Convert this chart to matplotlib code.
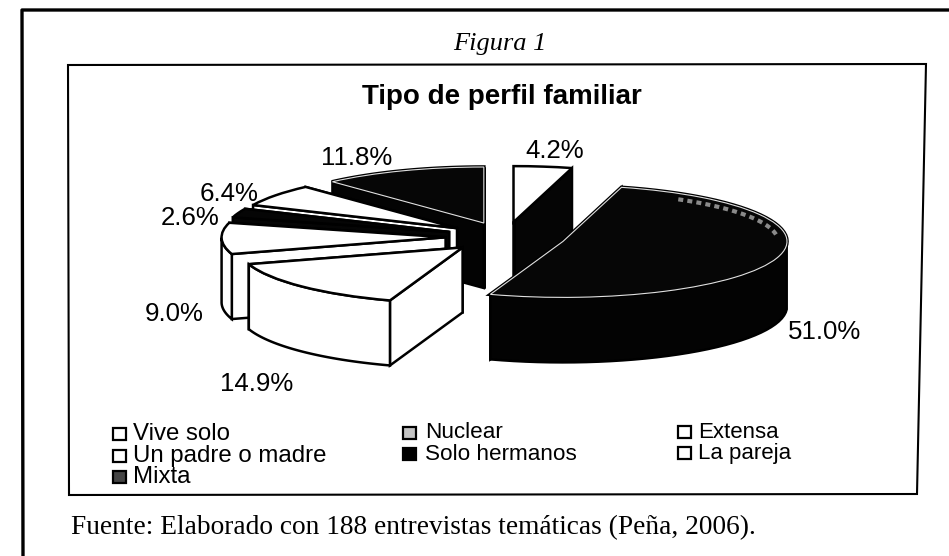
import numpy as np
import matplotlib
matplotlib.use('Agg')
import matplotlib.pyplot as plt
from matplotlib.patches import Polygon, Rectangle

labels = ['Vive solo', 'Nuclear', 'Extensa', 'Un padre o madre', 'Solo hermanos', 'La pareja', 'Mixta']
values = [4.2, 51.0, 14.9, 9.0, 2.6, 6.4, 11.8]
pct_labels = ['4.2%', '51.0%', '14.9%', '9.0%', '2.6%', '6.4%', '11.8%']

top_colors = ['white', '#060606', 'white', 'white', '#050505', 'white', '#060606']
side_colors = ['#050505', '#030303', 'white', 'white', '#050505', 'white', '#030303']
legend_colors = ['white', '#c4c4c4', 'white', 'white', 'black', 'white', '#444444']

W, H = 949, 556
fig = plt.figure(figsize=(W / 100, H / 100), dpi=100, facecolor='white')

# whole figure in pixel coords for frames and text
bg = fig.add_axes([0, 0, 1, 1])
bg.set_xlim(0, W)
bg.set_ylim(H, 0)
bg.axis('off')
bg.plot([23, 22, 949], [556, 10, 10], color='black', lw=2.4)
# the scan is a little skewed, so the inner box is not square
bg.add_patch(Polygon([(68, 65), (926, 64), (917, 494), (69, 495)], fc='none', ec='black', lw=1.5))

sans = ['Liberation Sans', 'DejaVu Sans']
serif = ['Liberation Serif', 'DejaVu Serif']
bg.text(500, 44, 'Figura 1', family=serif, style='italic', fontsize=19, ha='center', va='center')
bg.text(502, 97, 'Tipo de perfil familiar', family=sans, weight='bold', fontsize=20, ha='center', va='center')
bg.text(71, 528, 'Fuente: Elaborado con 188 entrevistas temáticas (Peña, 2006).', family=serif,
        fontsize=19.7, ha='left', va='center')

# pie axes: 1 data unit = RX px across, RY px down
CX, CY, RX, RY = 505.6, 237, 224, 56
ax = fig.add_axes([0, 0, 1, 1])
ax.patch.set_alpha(0)
wedges, _ = ax.pie(values, startangle=90, counterclock=False, explode=[0.268] * len(values),
                   radius=1, wedgeprops=dict(lw=1.8, edgecolor='black'))
ax.set_aspect('auto')
ax.set_xlim((0 - CX) / RX, (W - CX) / RX)
ax.set_ylim((CY - H) / RY, CY / RY)
ax.set_frame_on(False)

depth = 65 / RY


def arc(w, a, b, n=60):
    t = np.radians(np.linspace(a, b, n))
    return np.cos(t) * w.r + w.center[0], np.sin(t) * w.r + w.center[1], t


# back slices first, each with its own side faces
order = sorted(range(len(wedges)), key=lambda i: -wedges[i].center[1])
for rank, i in enumerate(order):
    w = wedges[i]
    z = 2 + rank
    cx, cy = w.center
    sc = side_colors[i]
    for ang in (w.theta1, w.theta2):
        x, y, _t = arc(w, ang, ang, 1)
        pts = [(cx, cy), (x[0], y[0]), (x[0], y[0] - depth), (cx, cy - depth)]
        ax.add_patch(Polygon(pts, fc=sc, ec='black', lw=1.8, zorder=z))
    # only the front part of the rim shows
    x, y, t = arc(w, w.theta1, w.theta2)
    front = np.sin(t) <= 0
    if front.sum() > 1:
        x, y = x[front], y[front]
        pts = list(zip(x, y)) + list(zip(x[::-1], y[::-1] - depth))
        ax.add_patch(Polygon(pts, fc=sc, ec='black', lw=1.8, zorder=z))
    w.set_facecolor(top_colors[i])
    w.set_zorder(z + 0.5)
    # dark tops: black outside with a thin light line, as in the scan
    if top_colors[i] != 'white' and values[i] > 5:
        x, y, t = arc(w, w.theta1, w.theta2)
        ax.add_patch(Polygon([(cx, cy)] + list(zip(x, y)), fc='black', ec='black', lw=2.6, zorder=z + 0.4))
        w.set_edgecolor('#e0e0e0')
        w.set_linewidth(0.8)

# worn grey patch along the back of the big slice
w = wedges[1]
x, y, t = arc(w, 8, 58)
ax.plot(w.center[0] + (x - w.center[0]) * 0.96, w.center[1] + (y - w.center[1]) * 0.89,
        color='#8a8a8a', lw=3, ls=(0, (1.2, 1.0)), zorder=20)

# percentage labels
pct_pos = [(555, 151), (825, 332), (257, 384), (174, 314), (190, 218), (229, 194), (357, 158)]
for t, (px, py) in zip(pct_labels, pct_pos):
    bg.text(px, py, t, family=sans, fontsize=18.6, ha='center', va='center', zorder=50)
bg.set_zorder(ax.get_zorder() + 1)

# legend by hand, Excel layout
icon_x = [119.5, 409.5, 684.5]
text_x = [133, 425, 698]
leg_sizes = [17.3, 16.2, 16.0]
leg_y = [[434, 433, 432], [456, 454, 453], [477]]
for i, (lab, col) in enumerate(zip(labels, legend_colors)):
    row, c = i // 3, i % 3
    y = leg_y[row][c]
    bg.add_patch(Rectangle((icon_x[c] - 6.5, y - 6), 13, 12, fc=col, ec='black', lw=1.6))
    bg.text(text_x[c], y, lab, family=sans, fontsize=leg_sizes[c], ha='left', va='center')

fig.savefig('out.png', dpi=100)
